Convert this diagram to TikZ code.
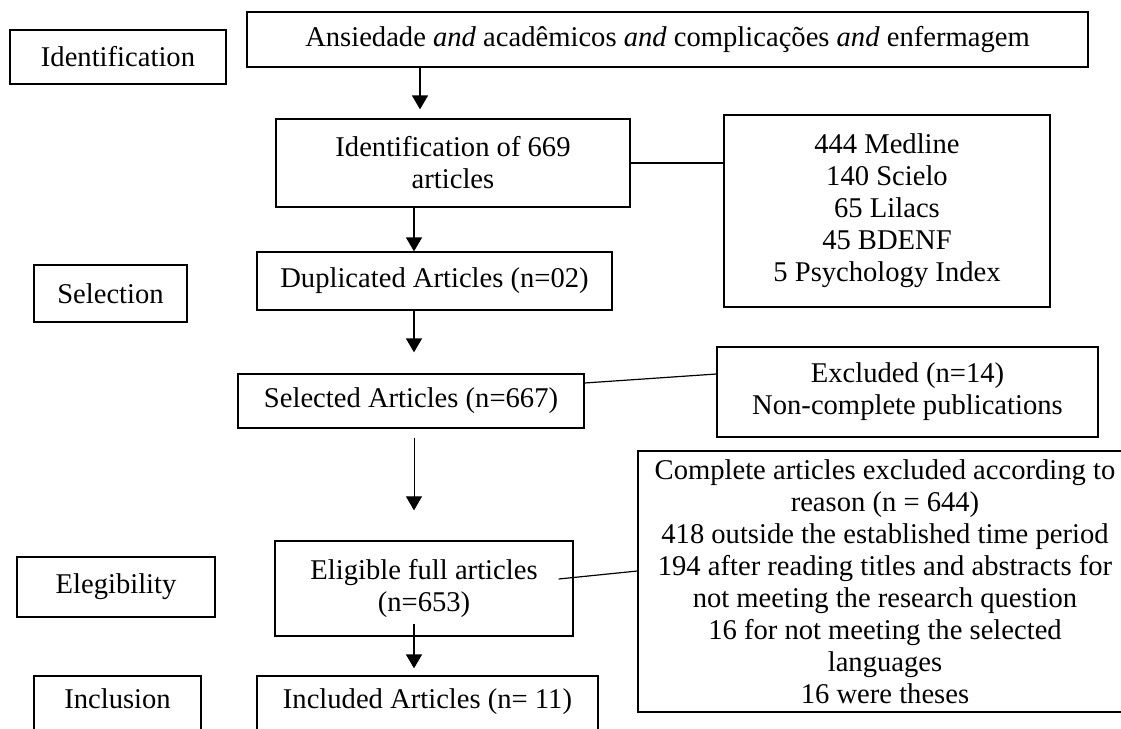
\documentclass[tikz,border=0pt]{standalone}
\usepackage{fontspec}
\setmainfont{Liberation Serif}
\def\fs{\fontsize{14.3pt}{16pt}\selectfont}
\usetikzlibrary{calc,arrows.meta}
\tikzset{
  box/.style={draw, line width=.65pt, align=center, font=\fs, inner sep=0pt},
  lowbox/.style={box, text depth=7pt},
  arr/.style={line width=.7pt, -{Triangle[width=8pt,length=7pt]}},
  link/.style={line width=.6pt},
}

\begin{document}
\begin{tikzpicture}[x=.5pt,y=-.5pt]
\useasboundingbox (0,0) rectangle (1121,729);

%% stage labels on the left
\node[box, minimum width=108pt, minimum height=27pt] (lident) at (118,57) {Identification};
\node[box, minimum width=76.5pt, minimum height=28.5pt] (lsel) at (110.5,293.5) {Selection};
\node[box, minimum width=99pt, minimum height=30pt] (lelig) at (116,587) {Elegibility};
\node[lowbox, minimum width=83.5pt, minimum height=30pt] (lincl) at (117.5,706) {Inclusion};

%% main column
\node[box, minimum width=420.5pt, minimum height=27.5pt] (query) at (667.5,39.5)
  {Ansiedade \textit{and} acadêmicos \textit{and} complicações \textit{and} enfermagem};
\node[box, minimum width=177pt, minimum height=44pt] (ident) at (453,163)
  {Identification of 669\\articles};
\node[box, minimum width=177.5pt, minimum height=29pt] (dup) at (434.5,281) {Duplicated Articles (n=02)};
\node[box, minimum width=173pt, minimum height=27pt] (selected) at (411,401) {Selected Articles (n=667)};
\node[box, minimum width=149pt, minimum height=47.5pt] (elig) at (424,588.5)
  {Eligible full articles\\(n=653)};
\node[lowbox, minimum width=170.5pt, minimum height=30pt] (incl) at (427.5,706) {Included Articles (n= 11)};

%% side boxes
\node[box, minimum width=163pt, minimum height=96pt] (sources) at (887,211)
  {444 Medline\\140 Scielo\\65 Lilacs\\45 BDENF\\5 Psychology Index};
\node[box, minimum width=190.5pt, minimum height=45pt] (excl) at (907.5,392)
  {Excluded (n=14)\\Non-complete publications};
\node[box, minimum width=247pt, minimum height=130.5pt] (compl) at (885,581.5)
  {Complete articles excluded according to\\reason (n = 644)\\418 outside the established time period\\
   194 after reading titles and abstracts for\\not meeting the research question\\
   16 for not meeting the selected\\languages\\16 were theses};

%% arrows down the column
\coordinate (feed) at (420,0);
\coordinate (trunk) at (414,0);
\draw[arr] (feed |- query.south) -- ($(feed |- ident.north)+(0,-9)$);
\draw[arr] (trunk |- ident.south) -- (trunk |- dup.north);
\draw[arr] (trunk |- dup.south) -- ($(trunk |- selected.north)+(0,-21)$);
\draw[arr, line width=.45pt] ($(trunk |- selected.south)+(0,9)$) -- ($(trunk |- elig.north)+(0,-30)$);
\draw[arr] ($(trunk |- elig.south)+(0,-13)$) -- ($(trunk |- incl.north)+(0,-7)$);

%% side links
\draw[link] (ident.east) -- (ident.east -| sources.west);
\draw[link] ($(selected.east)+(0,-18)$) -- ($(excl.west)+(0,-18)$);
\draw[link] ($(elig.east)+(-15,-9.5)$) -- ($(compl.west)+(0,-10.5)$);

\end{tikzpicture}
\end{document}
